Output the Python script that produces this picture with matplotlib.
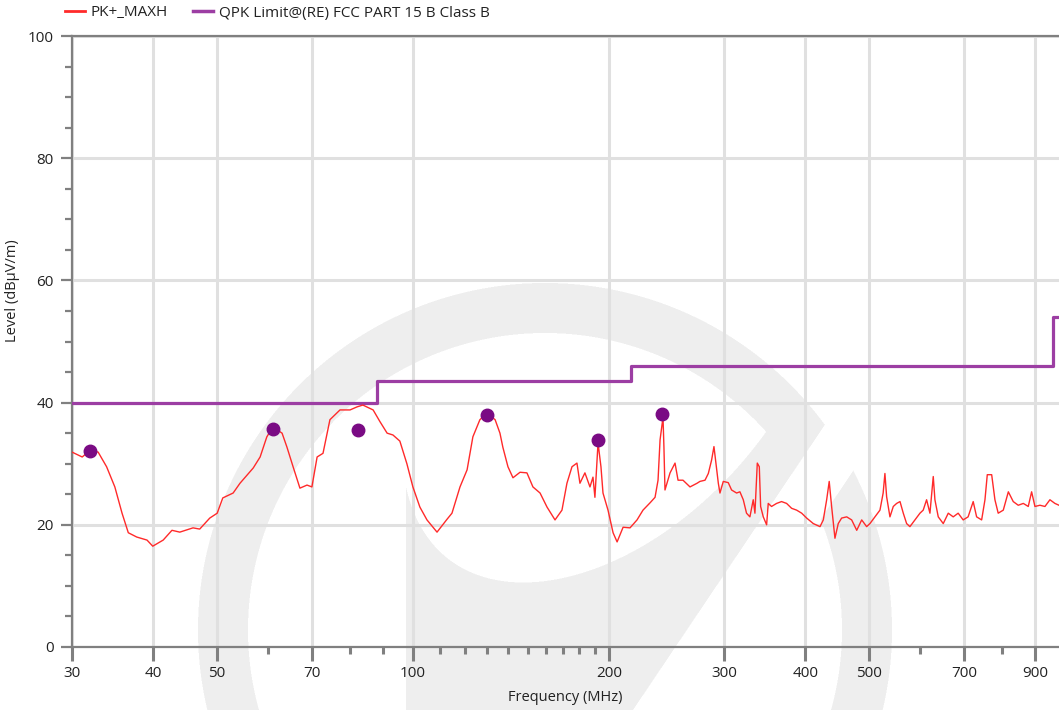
import numpy as np
import matplotlib
matplotlib.use("Agg")
import matplotlib.pyplot as plt
from matplotlib.lines import Line2D

plt.rcParams['font.family'] = ['Open Sans', 'DejaVu Sans']

# measured trace (PK+_MAXH)
freq = [30.0, 31.1, 32.0, 32.9, 33.9, 34.9, 35.8, 36.6, 37.7, 39.1, 39.9, 41.4, 42.7, 43.9,
        46.0, 47.1, 48.8, 50.1, 51.1, 53.0, 54.3, 56.9, 58.3, 59.7, 61.0, 63.0, 64.1, 65.5,
        67.1, 68.8, 70.0, 71.3, 72.8, 74.6, 77.3, 80.1, 82.1, 83.8, 86.9, 89.0, 91.3, 93.2,
        95.5, 97.9, 100.0, 102.5, 105.1, 108.9, 112.8, 114.8, 118.1, 121.1, 123.6, 126.7,
        129.9, 133.7, 136.0, 137.4, 139.9, 142.4, 146.0, 149.6, 152.8, 156.7, 160.6, 165.2,
        169.3, 172.3, 175.4, 178.5, 180.4, 183.6, 186.9, 188.9, 190.2, 192.3, 194.3, 195.7,
        199.2, 202.8, 205.7, 210.1, 215.3, 220.7, 225.4, 231.1, 235.2, 237.7, 239.4, 241.9,
        242.7, 243.6, 248.0, 252.4, 255.1, 259.6, 266.1, 272.8,
        275.6, 280.6, 283.9, 287.2, 289.6, 291.6, 294.1, 295.8, 299.3, 304.6, 308.2, 313.7,
        317.4, 321.2, 324.9, 328.8, 332.7, 334.7, 337.5, 339.9, 341.5, 344.7, 348.8, 350.8,
        354.9, 361.3, 367.7, 374.3, 381.0, 387.8, 394.8, 401.8, 411.3, 421.2, 426.1, 431.2,
        435.1, 438.8, 444.0, 449.2, 454.6, 462.8, 471.0, 479.5, 488.0, 496.6, 502.4, 511.3,
        520.5, 526.4, 529.7, 532.9, 539.2, 545.6, 552.1, 558.7, 565.2, 571.9, 578.6, 589.0,
        599.5, 606.4, 613.7, 621.0, 628.3, 632.0, 639.5, 650.9, 662.5, 674.2, 686.1, 698.3,
        710.6, 723.5, 732.3, 745.4, 754.2, 760.4, 772.3, 781.2, 790.3, 804.6, 819.1, 833.4,
        848.3, 863.6, 878.8, 889.3, 899.8, 915.8, 932.2, 948.7, 965.6, 979.6]
level = [31.9, 31.1, 32.2, 31.9, 29.5, 26.2, 21.9, 18.7, 18.0, 17.5, 16.5, 17.5, 19.1, 18.8,
         19.5, 19.3, 21.1, 21.9, 24.4, 25.2, 26.8, 29.3, 31.1, 34.4, 36.0, 35.0, 32.7, 29.5,
         26.0, 26.5, 26.2, 31.1, 31.7, 37.2, 38.8, 38.8, 39.3, 39.6, 38.8, 36.9, 35.0, 34.7,
         33.7, 30.0, 26.2, 22.9, 20.8, 18.8, 20.9, 21.9, 26.2, 29.0, 34.4, 37.2,
         38.3, 37.2, 35.0, 32.7, 29.5, 27.7, 28.6, 28.5, 26.2, 25.2, 22.9, 20.8,
         22.4, 26.8, 29.5, 30.1, 26.8, 28.5, 26.2, 27.8, 24.5, 33.4, 29.5, 25.2,
         22.4, 18.7, 17.2, 19.6, 19.5, 20.8, 22.4, 23.6, 24.5, 27.3, 33.9, 37.6,
         32.7, 25.7, 28.5, 30.1, 27.3, 27.3, 26.2, 26.8,
         27.1, 27.3, 28.4, 30.6, 32.8, 30.1, 26.8, 25.2, 27.1, 26.9, 25.7, 25.2,
         25.4, 24.1, 21.9, 21.3, 24.1, 21.9, 30.1, 29.5, 23.0, 21.3, 20.0, 23.5,
         23.0, 23.5, 23.8, 23.5, 22.7, 22.4, 21.9, 21.1, 20.2, 19.7, 20.8, 24.1,
         27.1, 23.0, 17.8, 20.2, 21.1, 21.3, 20.8, 19.1, 20.8, 19.7, 20.2, 21.3,
         22.4, 25.2, 28.4, 24.6, 21.3, 23.0, 23.5, 23.8, 21.9, 20.2, 19.7, 20.8,
         21.9, 22.4, 24.1, 21.9, 27.9, 24.1, 21.3, 20.2, 21.9, 21.3, 21.9, 20.8,
         21.3, 23.8, 21.3, 20.8, 24.1, 28.2, 28.2, 24.1, 21.9, 22.4, 25.4, 23.8,
         23.2, 23.5, 23.0, 25.4, 23.0, 23.2, 23.0, 24.1, 23.5, 23.2]

# QPK limit FCC Part 15 B Class B (step edges)
limit_freq = [30, 88, 88, 216, 216, 960, 960, 1000]
limit_level = [40, 40, 43.5, 43.5, 46, 46, 54, 54]

# peak markers
peak_freq = [32.0, 61.0, 82.4, 129.9, 192.3, 241.0]
peak_level = [32.1, 35.7, 35.5, 38.0, 33.9, 38.1]

major_x = [30, 40, 50, 70, 100, 200, 300, 400, 500, 700, 900]
minor_x = [60, 80, 90, 110, 120, 130, 140, 150, 160, 170, 180, 190, 600, 800]

W, H = 1059, 710
fig = plt.figure(figsize=(W / 100, H / 100), dpi=100)

# watermark logo in the background
ss = 2
yy, xx = np.mgrid[0:H * ss, 0:W * ss]
xx = (xx + 0.5) / ss
yy = (yy + 0.5) / ss
r = np.hypot(xx - 545, yy - 630)
c1 = (xx - 820) * 278 + (yy - 432) * 187
c2 = (xx - 847) * 278 + (yy - 480) * 187
ring = (r <= 347) & (r >= 297)
t = np.linspace(0, 1, 200)
P = np.array([[766, 432], [645, 600], [440, 640], [406, 487]])
bx = ((1 - t) ** 3 * P[0, 0] + 3 * (1 - t) ** 2 * t * P[1, 0]
      + 3 * (1 - t) * t ** 2 * P[2, 0] + t ** 3 * P[3, 0])
by = ((1 - t) ** 3 * P[0, 1] + 3 * (1 - t) ** 2 * t * P[1, 1]
      + 3 * (1 - t) * t ** 2 * P[2, 1] + t ** 3 * P[3, 1])
lens_y = np.interp(xx, bx[::-1], by[::-1], left=1e9, right=0)
mask = (ring & (c1 < 0)) | (ring & (c2 > 0)) | ((xx >= 406) & (yy >= lens_y) & (c1 < 0) & (r < 347))
cov = mask.reshape(H, ss, W, ss).mean(axis=(1, 3))
img = np.ones((H, W, 3))
g = 238 / 255
img = img * (1 - cov[..., None]) + g * cov[..., None]
bg = fig.add_axes([0, 0, 1, 1])
bg.imshow(img, extent=(0, W, H, 0), interpolation='bilinear')
bg.set_xlim(0, W)
bg.set_ylim(H, 0)
bg.axis('off')

ax = fig.add_axes([72 / W, (H - 647) / H, (W - 72) / W, 611 / H])
ax.set_facecolor('none')
ax.set_xscale('log')
ax.set_xlim(30, 979.6)
ax.set_ylim(0, 100)

ax.plot(limit_freq, limit_level, color='#9c3ea3', lw=2.3, zorder=3)
ax.plot(freq, level, color='#ff2a2a', lw=1.0, zorder=4)
ax.plot(peak_freq, peak_level, 'o', color='#7a0b84', ms=9, zorder=5)

ax.set_xticks(major_x)
ax.set_xticklabels([str(v) for v in major_x])
ax.set_xticks(minor_x, minor=True)
ax.set_xticklabels([], minor=True)
ax.set_yticks([0, 20, 40, 60, 80, 100])
ax.set_yticks(np.arange(0, 101, 5), minor=True)

ax.grid(True, which='major', color='#e0e0e0', lw=2.2, zorder=1)
ax.set_axisbelow(True)

for s in ['left', 'bottom', 'top']:
    ax.spines[s].set_color('#808080')
    ax.spines[s].set_linewidth(1.6)
ax.spines['right'].set_visible(False)

ax.tick_params(axis='x', which='major', length=10, width=2.2, color='#808080',
               labelsize=11, labelcolor='#222222', pad=4)
ax.tick_params(axis='x', which='minor', length=5, width=2.2, color='#808080')
ax.tick_params(axis='y', which='major', length=8, width=1.6, color='#808080',
               labelsize=11, labelcolor='#222222', pad=5)
ax.tick_params(axis='y', which='minor', length=5, width=1.6, color='#808080')

ax.set_xlabel('Frequency (MHz)', fontsize=10.5, color='#222222')
ax.xaxis.set_label_coords(0.5, -0.071)
ax.set_ylabel('Level (dBµV/m)', fontsize=10.5, color='#222222')
ax.yaxis.set_label_coords(-0.053, 0.584)

handles = [Line2D([], [], color='#ff2a2a', lw=2),
           Line2D([], [], color='#9c3ea3', lw=2.5)]
ax.legend(handles, ['PK+_MAXH', 'QPK Limit@(RE) FCC PART 15 B Class B'],
          loc='center left', bbox_to_anchor=(65 / W, 1 - 13 / H),
          bbox_transform=fig.transFigure, ncol=2, frameon=False,
          fontsize=11, handlelength=1.3, handletextpad=0.4, columnspacing=1.6,
          borderpad=0, borderaxespad=0, labelcolor='#222222')

fig.savefig('out.png', dpi=100)
